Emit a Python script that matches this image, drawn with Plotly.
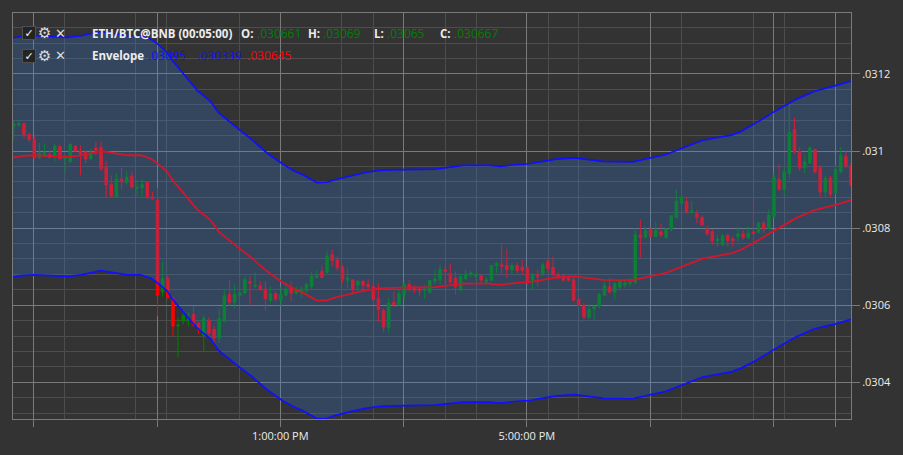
import plotly.graph_objects as go

# ---------------- data (5-minute candles) ----------------
OPEN = [.031064, .031067, .031071, .031043, .031030, .030983, .030987, .030991, .030989, .031012,
        .030980, .030972, .031012, .031001, .030997, .030980, .031008, .031010, .030958, .030914,
        .030880, .030927, .030918, .030935, .030903, .030905, .030919, .030881, .030873, .030634,
        .030669, .030617, .030546, .030559, .030562, .030576, .030553, .030522, .030561, .030537,
        .030515, .030559, .030628, .030608, .030626, .030632, .030661, .030649, .030651, .030642,
        .030613, .030630, .030613, .030626, .030647, .030632, .030633, .030638, .030648, .030672,
        .030688, .030685, .030731, .030718, .030699, .030665, .030666, .030652, .030662, .030654,
        .030648, .030617, .030586, .030542, .030608, .030602, .030628, .030654, .030645, .030643,
        .030639, .030634, .030662, .030666, .030692, .030682, .030671, .030642, .030669, .030679,
        .030675, .030677, .030660, .030665, .030703, .030705, .030703, .030692, .030703, .030699,
        .030697, .030660, .030679, .030682, .030714, .030698, .030679, .030677, .030671, .030666,
        .030615, .030600, .030569, .030591, .030598, .030625, .030648, .030634, .030647, .030654,
        .030657, .030660, .030782, .030777, .030795, .030778, .030790, .030776, .030797, .030828,
        .030864, .030869, .030840, .030837, .030828, .030798, .030791, .030768, .030757, .030781,
        .030772, .030778, .030785, .030776, .030790, .030789, .030813, .030798, .030830, .030926,
        .030901, .030942, .031055, .030999, .030956, .030969, .031004, .030957, .030894, .030930,
        .030892, .030946, .030986, .030961]
HIGH = [.031077, .031079, .031074, .031048, .031040, .031021, .031020, .031002, .031019, .031016,
        .030989, .031021, .031016, .031015, .031002, .031006, .031025, .031025, .030973, .030937,
        .030942, .030957, .030948, .030948, .030925, .030928, .030920, .030894, .030905, .030713,
        .030678, .030623, .030568, .030585, .030581, .030598, .030559, .030574, .030568, .030546,
        .030593, .030641, .030666, .030654, .030675, .030675, .030675, .030685, .030662, .030662,
        .030648, .030634, .030648, .030658, .030662, .030649, .030649, .030658, .030688, .030692,
        .030703, .030742, .030744, .030727, .030705, .030697, .030668, .030666, .030666, .030668,
        .030654, .030658, .030592, .030619, .030636, .030641, .030662, .030665, .030651, .030649,
        .030651, .030666, .030692, .030705, .030701, .030708, .030688, .030682, .030692, .030688,
        .030688, .030679, .030675, .030705, .030713, .030761, .030746, .030710, .030712, .030718,
        .030699, .030684, .030692, .030711, .030725, .030727, .030685, .030682, .030679, .030675,
        .030619, .030606, .030602, .030602, .030632, .030662, .030671, .030662, .030665, .030668,
        .030671, .030800, .030823, .030804, .030800, .030817, .030811, .030800, .030834, .030901,
        .030896, .030880, .030870, .030847, .030834, .030806, .030797, .030783, .030785, .030785,
        .030778, .030804, .030795, .030804, .030880, .030817, .030820, .030849, .030943, .030966,
        .030955, .031124, .031086, .031010, .030989, .031013, .031006, .030963, .030937, .030935,
        .030963, .031010, .030999, .030968]
LOW = [.031030, .031064, .031033, .031023, .030980, .030980, .030985, .030982, .030972, .030979,
       .030943, .030970, .030999, .030937, .030968, .030978, .030989, .030948, .030880, .030880,
       .030879, .030901, .030913, .030902, .030883, .030877, .030875, .030875, .030572, .030622,
       .030615, .030520, .030465, .030550, .030546, .030546, .030525, .030481, .030520, .030503,
       .030503, .030556, .030598, .030593, .030623, .030628, .030599, .030645, .030636, .030585,
       .030606, .030610, .030599, .030623, .030610, .030628, .030620, .030632, .030642, .030671,
       .030671, .030684, .030701, .030688, .030658, .030645, .030632, .030636, .030641, .030639,
       .030610, .030556, .030530, .030529, .030596, .030598, .030612, .030634, .030632, .030625,
       .030617, .030630, .030654, .030654, .030654, .030654, .030628, .030634, .030666, .030673,
       .030666, .030658, .030654, .030662, .030684, .030679, .030671, .030679, .030684, .030679,
       .030656, .030642, .030649, .030675, .030684, .030675, .030668, .030662, .030662, .030610,
       .030598, .030563, .030563, .030561, .030591, .030623, .030632, .030615, .030642, .030645,
       .030649, .030654, .030724, .030774, .030777, .030777, .030777, .030773, .030791, .030826,
       .030860, .030837, .030837, .030813, .030806, .030780, .030757, .030751, .030752, .030752,
       .030752, .030765, .030770, .030772, .030774, .030787, .030787, .030795, .030826, .030897,
       .030884, .030927, .030993, .030948, .030943, .030966, .030942, .030881, .030881, .030881,
       .030888, .030942, .030956, .030907]
CLOSE = [.031070, .031071, .031043, .031030, .030982, .030995, .030997, .030983, .031012, .030980,
         .030982, .031017, .031000, .030992, .030979, .030997, .031002, .030954, .030912, .030883,
         .030927, .030920, .030932, .030907, .030906, .030914, .030880, .030876, .030626, .030669,
         .030621, .030546, .030549, .030574, .030565, .030549, .030536, .030566, .030527, .030515,
         .030565, .030625, .030608, .030628, .030632, .030666, .030657, .030651, .030642, .030617,
         .030630, .030617, .030628, .030642, .030632, .030642, .030642, .030654, .030675, .030678,
         .030672, .030728, .030716, .030697, .030668, .030671, .030642, .030662, .030652, .030648,
         .030615, .030589, .030543, .030606, .030602, .030630, .030654, .030642, .030639, .030638,
         .030642, .030664, .030668, .030692, .030688, .030660, .030648, .030675, .030681, .030684,
         .030679, .030665, .030666, .030703, .030708, .030701, .030692, .030703, .030690, .030690,
         .030660, .030677, .030675, .030705, .030695, .030679, .030673, .030665, .030665, .030613,
         .030600, .030569, .030589, .030597, .030628, .030651, .030634, .030656, .030662, .030658,
         .030660, .030783, .030776, .030793, .030778, .030794, .030782, .030798, .030832, .030870,
         .030881, .030843, .030845, .030828, .030808, .030785, .030767, .030772, .030780, .030768,
         .030767, .030785, .030776, .030787, .030786, .030813, .030797, .030834, .030932, .030901,
         .030946, .031048, .030998, .030956, .030972, .031008, .030946, .030894, .030929, .030888,
         .030953, .030989, .030961, .030912]

# Envelope indicator (middle line and +/-1% bands), sampled along the candle index axis
ENV_X = [-0.2, 1.4, 3.9, 10.5, 13.1, 17.0, 22.1, 24.7, 26.7, 28.0,
         29.9, 30.9, 33.1, 35.7, 38.3, 39.9, 43.5, 46.1, 49.3, 52.5,
         54.8, 56.4, 59.0, 61.0, 62.3, 65.5, 68.7, 71.3, 73.3, 82.0,
         84.3, 87.5, 92.7, 94.6, 97.9, 100.4, 103.0, 105.6, 109.2, 112.1,
         114.7, 120.5, 123.7, 127.0, 130.2, 134.1, 139.9, 141.6, 144.5, 147.7,
         152.3, 155.9, 159.8, 163.2]
ENV_MID = [.030983, .030987, .030989, .030985, .030989, .031000, .030989, .030989, .030980, .030968,
           .030946, .030925, .030890, .030849, .030821, .030791, .030752, .030725, .030688, .030658,
           .030641, .030632, .030612, .030613, .030619, .030630, .030639, .030644, .030645, .030647,
           .030651, .030656, .030656, .030653, .030658, .030660, .030666, .030672, .030675, .030671,
           .030666, .030665, .030675, .030684, .030701, .030721, .030735, .030744, .030765, .030791,
           .030826, .030847, .030860, .030873]
ENV_UPPER = [.031293, .031297, .031299, .031295, .031299, .031310, .031299, .031299, .031290, .031278,
             .031255, .031234, .031199, .031157, .031129, .031099, .031060, .031032, .030995, .030965,
             .030947, .030938, .030918, .030919, .030925, .030936, .030945, .030950, .030951, .030953,
             .030958, .030963, .030963, .030960, .030965, .030967, .030973, .030979, .030982, .030978,
             .030973, .030972, .030982, .030991, .031008, .031028, .031042, .031051, .031073, .031099,
             .031134, .031155, .031169, .031182]
ENV_LOWER = [.030673, .030677, .030679, .030675, .030679, .030690, .030679, .030679, .030670, .030658,
             .030637, .030616, .030581, .030541, .030513, .030483, .030444, .030418, .030381, .030351,
             .030335, .030326, .030306, .030307, .030313, .030324, .030333, .030338, .030339, .030341,
             .030344, .030349, .030349, .030346, .030351, .030353, .030359, .030365, .030368, .030364,
             .030359, .030358, .030368, .030377, .030394, .030414, .030428, .030437, .030457, .030483,
             .030518, .030539, .030551, .030564]

# axis ticks
Y_TICKS = [0.0304, 0.0306, 0.0308, 0.0310, 0.0312]
Y_TICK_TEXT = ['.0304', '.0306', '.0308', '.031', '.0312']
X_TICKS = [3.8, 27.9, 51.9, 75.9, 99.9, 123.9, 148.0, 160.0]
X_TICK_TEXT = ['', '', '1:00:00 PM', '', '5:00:00 PM', '', '', '']
X_MINOR = [9.8, 23.8, 29.8, 44.0, 63.9, 70.0, 84.1, 90.0, 104.1, 110.0, 130.0, 144.0, 150.0]

# header texts
SYMBOL = 'ETH/BTC@BNB (00:05:00)'
OHLC_LABELS = ['O:', 'H:', 'L:', 'C:']
OHLC_VALUES = ['.030661', '.03069', '.03065', '.030667']
ENV_NAME = 'Envelope'
ENV_VALUES = ['.03095', '.030339', '.030645']

# ---------------- styling ----------------
W, H = 903, 455
ML, MR, MT, MB = 12, 51, 12, 35
PW, PH = W - ML - MR, H - MT - MB
BG = '#333333'
GREEN = '#008000'
RED = '#ff0000'
BLUE = '#1010ff'
BAND_FILL = 'rgba(51,127,223,0.25)'
MAJOR_GRID = '#7a7a7a'
MINOR_GRID = '#4d4d4d'
TEXT = '#ececec'

X = list(range(len(OPEN)))

fig = go.Figure()
fig.add_trace(go.Candlestick(
    x=X, open=OPEN, high=HIGH, low=LOW, close=CLOSE,
    increasing=dict(line=dict(color=GREEN, width=1), fillcolor=GREEN),
    decreasing=dict(line=dict(color=RED, width=1), fillcolor=RED),
    whiskerwidth=0, showlegend=False, hoverinfo='skip'))
fig.add_trace(go.Scatter(x=ENV_X, y=ENV_UPPER, mode='lines',
                         line=dict(color=BLUE, width=1.7), showlegend=False, hoverinfo='skip'))
fig.add_trace(go.Scatter(x=ENV_X, y=ENV_LOWER, mode='lines', fill='tonexty', fillcolor=BAND_FILL,
                         line=dict(color=BLUE, width=1.7), showlegend=False, hoverinfo='skip'))
fig.add_trace(go.Scatter(x=ENV_X, y=ENV_MID, mode='lines',
                         line=dict(color='#d4162a', width=1.8), showlegend=False, hoverinfo='skip'))

fig.update_layout(
    width=W, height=H, margin=dict(l=ML, r=MR, t=MT, b=MB, pad=0),
    paper_bgcolor=BG, plot_bgcolor=BG, showlegend=False,
    font=dict(family='Open Sans', size=11, color=TEXT),
    xaxis=dict(range=[-0.14, 163.0], rangeslider=dict(visible=False),
               tickmode='array', tickvals=X_TICKS, ticktext=X_TICK_TEXT,
               ticks='outside', ticklen=7, tickcolor=MAJOR_GRID,
               showgrid=True, gridcolor=MAJOR_GRID, gridwidth=1,
               minor=dict(tickmode='array', tickvals=X_MINOR, showgrid=True,
                          gridcolor=MINOR_GRID, ticks=''),
               showline=True, linecolor=MAJOR_GRID, mirror=True, zeroline=False,
               tickfont=dict(family='Open Sans', size=11, color=TEXT)),
    yaxis=dict(range=[0.030305, 0.031358], side='right',
               tickmode='array', tickvals=Y_TICKS, ticktext=Y_TICK_TEXT,
               ticks='outside', ticklen=8, tickcolor=MAJOR_GRID,
               showgrid=True, gridcolor=MAJOR_GRID, gridwidth=1,
               minor=dict(tick0=0.0304, dtick=0.00004, showgrid=True,
                          gridcolor=MINOR_GRID, ticks=''),
               showline=True, linecolor=MAJOR_GRID, mirror=True, zeroline=False,
               tickfont=dict(family='Open Sans', size=11, color=TEXT)),
)


def px(xp):
    return (xp - ML) / PW


def py(yp):
    return (H - MB - yp) / PH


ann = []


def label(x, y, text, color=TEXT, size=12, bold=False, family='Open Sans', anchor='left'):
    t = '<b>' + text + '</b>' if bold else text
    ann.append(dict(xref='paper', yref='paper', x=px(x), y=py(y), xanchor=anchor, yanchor='middle',
                    text=t, showarrow=False, font=dict(family=family, size=size, color=color)))


def icons(y):
    ann.append(dict(xref='paper', yref='paper', x=px(28.5), y=py(y), xanchor='center', yanchor='middle',
                    text='✓', showarrow=False, width=12, height=12, bgcolor='#242424',
                    bordercolor='#505050', borderwidth=1, borderpad=0,
                    font=dict(family='DejaVu Sans', size=11, color='#f4f4f4')))
    label(44, y, '⚙', color='#dcdcdc', size=15, family='DejaVu Sans', anchor='center')
    label(60, y, '✕', color='#dcdcdc', size=13, family='DejaVu Sans', anchor='center')


row1, row2 = 32.5, 55
icons(row1)
icons(row2)
label(89, row1, SYMBOL, size=11.5, bold=True)
lab_x = [239, 306, 372, 438]
val_x = [255, 321, 385, 452]
for lx, vx, lt, vt in zip(lab_x, val_x, OHLC_LABELS, OHLC_VALUES):
    label(lx, row1, lt, size=11.5, bold=True)
    label(vx, row1, vt, color=GREEN)
label(89, row2, ENV_NAME, size=11.5, bold=True)
env_x = [145, 194, 245]
env_colors = [BLUE, BLUE, RED]
for vx, vt, c in zip(env_x, ENV_VALUES, env_colors):
    label(vx, row2, vt, color=c)

fig.update_layout(annotations=ann)
fig.write_html('out.html')
